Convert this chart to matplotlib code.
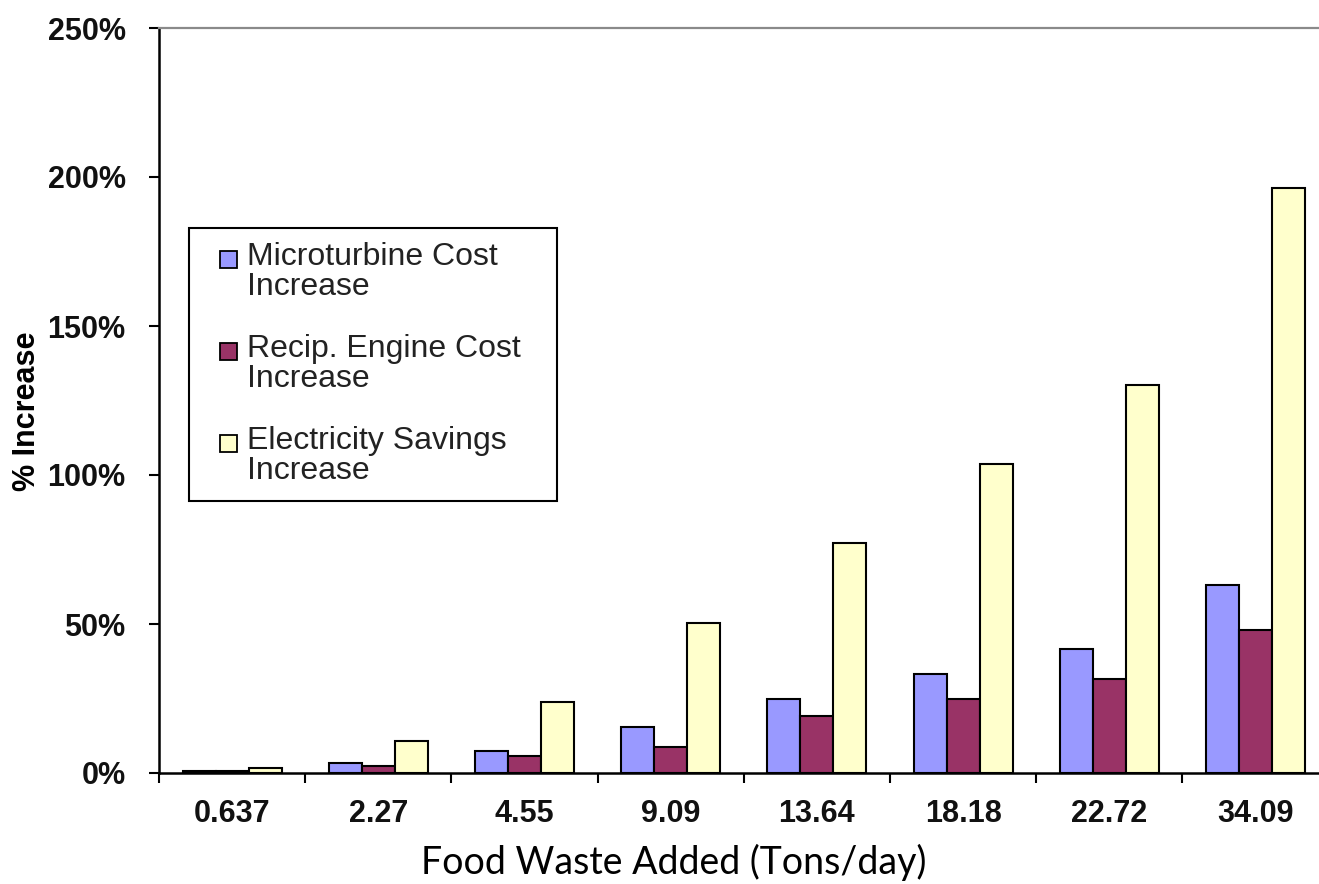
import numpy as np
import matplotlib
matplotlib.use("Agg")
import matplotlib.pyplot as plt
import matplotlib.patches as mpatches
from matplotlib.container import BarContainer
from matplotlib.legend_handler import HandlerPatch, update_from_first_child
from matplotlib.ticker import FixedLocator, PercentFormatter

# food waste added, tons/day
categories = ["0.637", "2.27", "4.55", "9.09", "13.64", "18.18", "22.72", "34.09"]

# % increase for each option
microturbine = [0.7, 3.3, 7.4, 15.5, 24.8, 33.2, 41.5, 63.0]
recip_engine = [0.6, 2.5, 5.8, 8.8, 19.1, 24.8, 31.5, 48.0]
electricity = [1.6, 10.7, 23.9, 50.4, 77.1, 103.7, 130.2, 196.3]

series_labels = [
    "Microturbine Cost\nIncrease",
    "Recip. Engine Cost\nIncrease",
    "Electricity Savings\nIncrease",
]
series_colors = ["#9999FF", "#993366", "#FFFFCC"]

W, H = 1319, 884
fig = plt.figure(figsize=(W / 100, H / 100), dpi=100)
# plot area runs a little past the right edge of the figure
ax = fig.add_axes([159 / W, (H - 773) / H, 8 * 146.2 / W, 745 / H])

x = np.arange(len(categories))
bw = 0.226
for k, (vals, lab, col) in enumerate(zip([microturbine, recip_engine, electricity],
                                         series_labels, series_colors)):
    ax.bar(x + (k - 1) * bw, vals, bw, color=col, edgecolor="black",
           linewidth=1.5, label=lab, zorder=3)

ax.set_xlim(-0.5, len(categories) - 0.5)
ax.set_ylim(0, 250)
ax.yaxis.set_major_locator(FixedLocator(np.arange(0, 251, 50)))
ax.yaxis.set_major_formatter(PercentFormatter(decimals=0))

ax.set_xticks(x)
ax.set_xticklabels(categories)
ax.set_xticks(np.arange(-0.5, len(categories)), minor=True)
ax.tick_params(axis="x", which="major", length=0, pad=19)
ax.tick_params(axis="x", which="minor", length=7, width=1.5, direction="out")
ax.tick_params(axis="y", length=7, width=1.5, direction="out", pad=17)

for lbl in ax.get_xticklabels() + ax.get_yticklabels():
    lbl.set_fontfamily("Liberation Sans")
    lbl.set_fontweight("bold")
    lbl.set_fontsize(22)
    lbl.set_color("#111111")

for side in ["left", "bottom"]:
    ax.spines[side].set_linewidth(1.8)
    ax.spines[side].set_color("black")
ax.spines["top"].set_color("#8a8a8a")
ax.spines["top"].set_linewidth(1.6)
ax.spines["right"].set_visible(False)

ax.set_ylabel("% Increase", family="Liberation Sans", weight="bold",
              fontsize=22, va="center")
ax.yaxis.set_label_coords(-0.113, 0.486)
ax.set_xlabel("Food Waste Added (Tons/day)", family="Lato", fontsize=27,
              va="top")
ax.xaxis.set_label_coords(0.44, -0.095)


def square_patch(legend, orig_handle, xdescent, ydescent, width, height, fontsize):
    # small square level with the first line of the label
    s = 0.53 * fontsize
    return mpatches.Rectangle((-xdescent + 0.52 * fontsize, -ydescent + 0.5 * fontsize), s, s)


leg = ax.legend(
    loc="upper left",
    mode="expand",
    bbox_to_anchor=(189 / W, 1 - 502 / H, 368 / W, 274 / H),
    bbox_transform=fig.transFigure,
    borderaxespad=0,
    prop=dict(family="Liberation Sans", size=23),
    handlelength=1.08,
    handletextpad=0.28,
    borderpad=0.45,
    labelspacing=1.0,
    fancybox=False,
    framealpha=1,
    edgecolor="black",
    handler_map={BarContainer: HandlerPatch(patch_func=square_patch,
                                            update_func=update_from_first_child)},
)
leg.get_frame().set_linewidth(1.5)
for t in leg.get_texts():
    t.set_color("#222222")
    t.set_linespacing(1.0)
for p in leg.get_patches():
    p.set_linewidth(1.3)

fig.savefig("out.png", dpi=100)
